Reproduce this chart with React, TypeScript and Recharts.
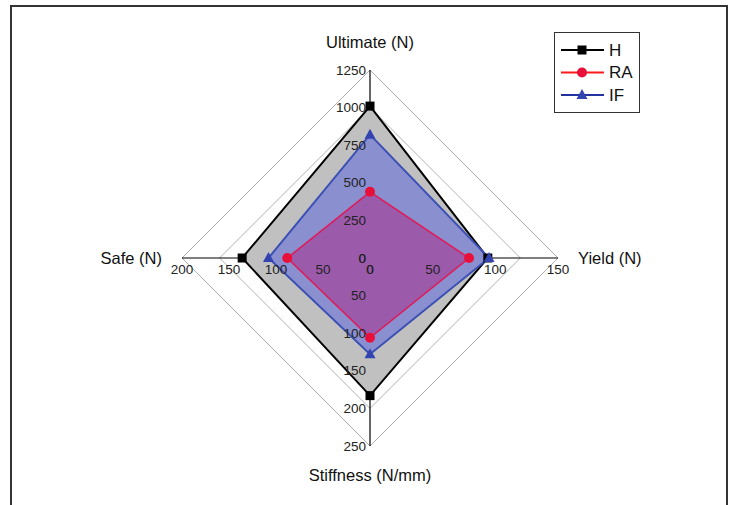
import React from "react";
import {
  RadarChart,
  Radar,
  PolarGrid,
  PolarAngleAxis,
  PolarRadiusAxis,
  Legend,
} from "recharts";

// Axes, clockwise from the top
const categories = ["Ultimate (N)", "Yield (N)", "Stiffness (N/mm)", "Safe (N)"];
const axisMax = [1250, 150, 250, 200];

// Tick labels for each axis
const ultimateTicks = [0, 250, 500, 750, 1000, 1250];
const yieldTicks = [0, 50, 100, 150];
const stiffnessTicks = [0, 50, 100, 150, 200, 250];
const safeTicks = [0, 50, 100, 150, 200];
const axisTicks = [ultimateTicks, yieldTicks, stiffnessTicks, safeTicks];

// Series values in axis order
const hValues = [1010, 94, 183, 136];
const raValues = [440, 79, 106, 88];
const ifValues = [820, 95, 128, 108];

const RINGS = 5;
const W = 731;
const H = 505;
const CX = 370;
const CY = 258;
const R = 188;
const FONT = "Arial, 'Liberation Sans', sans-serif";

// each axis has its own scale, so everything is plotted as a share of RINGS
const data = categories.map((axis, i) => ({
  axis,
  H: (hValues[i] / axisMax[i]) * RINGS,
  RA: (raValues[i] / axisMax[i]) * RINGS,
  IF: (ifValues[i] / axisMax[i]) * RINGS,
}));

const series = [
  { key: "H", stroke: "#000000", fill: "#c0c0c0", fillOpacity: 1, width: 2, marker: "square" },
  { key: "IF", stroke: "#3b4fb4", fill: "rgb(84,94,224)", fillOpacity: 0.5, width: 2, marker: "triangle" },
  { key: "RA", stroke: "#e01a55", fill: "rgb(172,37,132)", fillOpacity: 0.5, width: 1.5, marker: "circle" },
];

const markerColor: Record<string, string> = {
  square: "#000000",
  circle: "#e8103a",
  triangle: "#3344b0",
};

const Marker = ({ x, y, type }: { x: number; y: number; type: string }) => {
  const c = markerColor[type];
  if (type === "square") return <rect x={x - 4.5} y={y - 4.5} width={9} height={9} fill={c} />;
  if (type === "circle") return <circle cx={x} cy={y} r={5} fill={c} />;
  return <polygon points={`${x},${y - 6} ${x + 5.5},${y + 4} ${x - 5.5},${y + 4}`} fill={c} />;
};

const makeDot = (type: string) => (props: any) => (
  <Marker key={`${type}-${props.index}`} x={props.cx} y={props.cy} type={type} />
);

// axis title plus that axis's own number scale
const AxisTick = (props: any) => {
  const i: number = props.index;
  const dir = [
    [0, -1],
    [1, 0],
    [0, 1],
    [-1, 0],
  ][i];
  const vertical = dir[0] === 0;
  const max = axisMax[i];

  let title;
  if (i === 0)
    title = <text x={CX} y={CY - R - 28} textAnchor="middle" dominantBaseline="central">{categories[i]}</text>;
  else if (i === 1)
    title = <text x={CX + R + 20} y={CY} textAnchor="start" dominantBaseline="central">{categories[i]}</text>;
  else if (i === 2)
    title = <text x={CX} y={CY + R + 29} textAnchor="middle" dominantBaseline="central">{categories[i]}</text>;
  else
    title = <text x={CX - R - 20} y={CY} textAnchor="end" dominantBaseline="central">{categories[i]}</text>;

  return (
    <g fontFamily={FONT}>
      <g fontSize={16.5} fill="#111">{title}</g>
      <g fontSize={13.5} fill="#222">
        {axisTicks[i].map((t) => {
          const r = (t / max) * R;
          return vertical ? (
            <text key={t} x={CX - 4} y={CY + dir[1] * r} textAnchor="end" dominantBaseline="central">
              {t}
            </text>
          ) : (
            <text key={t} x={CX + dir[0] * r} y={CY + 11} textAnchor="middle" dominantBaseline="central">
              {t}
            </text>
          );
        })}
      </g>
    </g>
  );
};

const legendItems = [
  { name: "H", stroke: "#000000", marker: "square" },
  { name: "RA", stroke: "#ff1a1a", marker: "circle" },
  { name: "IF", stroke: "#2233a0", marker: "triangle" },
];

const LegendBox = () => (
  <svg width={87} height={82} style={{ display: "block" }}>
    <rect x={0.5} y={0.5} width={85} height={80} fill="#fff" stroke="#333" strokeWidth={1} />
    {legendItems.map((it, k) => {
      const y = 18 + k * 22.5;
      return (
        <g key={it.name}>
          <line x1={7} x2={50} y1={y} y2={y} stroke={it.stroke} strokeWidth={2} />
          <Marker x={28} y={y} type={it.marker} />
          <text x={55} y={y} dominantBaseline="central" fontFamily={FONT} fontSize={17} fill="#111">
            {it.name}
          </text>
        </g>
      );
    })}
  </svg>
);

export default function App() {
  return (
    <div style={{ position: "absolute", left: 0, top: 0, width: W, height: H, overflow: "hidden", background: "#fff" }}>
      <div
        style={{
          position: "absolute",
          left: 10,
          top: 5,
          width: 714,
          height: 540,
          border: "2px solid #333",
        }}
      />
      <div style={{ position: "absolute", left: 0, top: 0 }}>
        <RadarChart width={W} height={H} data={data} cx={CX} cy={CY} outerRadius={R} margin={{ top: 0, right: 0, bottom: 0, left: 0 }}>
          <PolarGrid gridType="polygon" radialLines={false} stroke="#b0b0b0" strokeWidth={1} />
          <PolarGrid gridType="polygon" polarRadius={[0]} stroke="#000" strokeWidth={1.2} />
          <PolarRadiusAxis domain={[0, RINGS]} tickCount={RINGS + 1} tick={false} axisLine={false} />
          <PolarAngleAxis dataKey="axis" tick={<AxisTick />} axisLine={false} tickLine={false} />
          {series.map((s) => (
            <Radar
              key={s.key}
              name={s.key}
              dataKey={s.key}
              stroke={s.stroke}
              strokeWidth={s.width}
              fill={s.fill}
              fillOpacity={s.fillOpacity}
              dot={makeDot(s.marker)}
              isAnimationActive={false}
            />
          ))}
          <Legend
            content={() => <LegendBox />}
            wrapperStyle={{ position: "absolute", left: 554, top: 32, width: 87, height: 82 }}
          />
        </RadarChart>
      </div>
    </div>
  );
}
